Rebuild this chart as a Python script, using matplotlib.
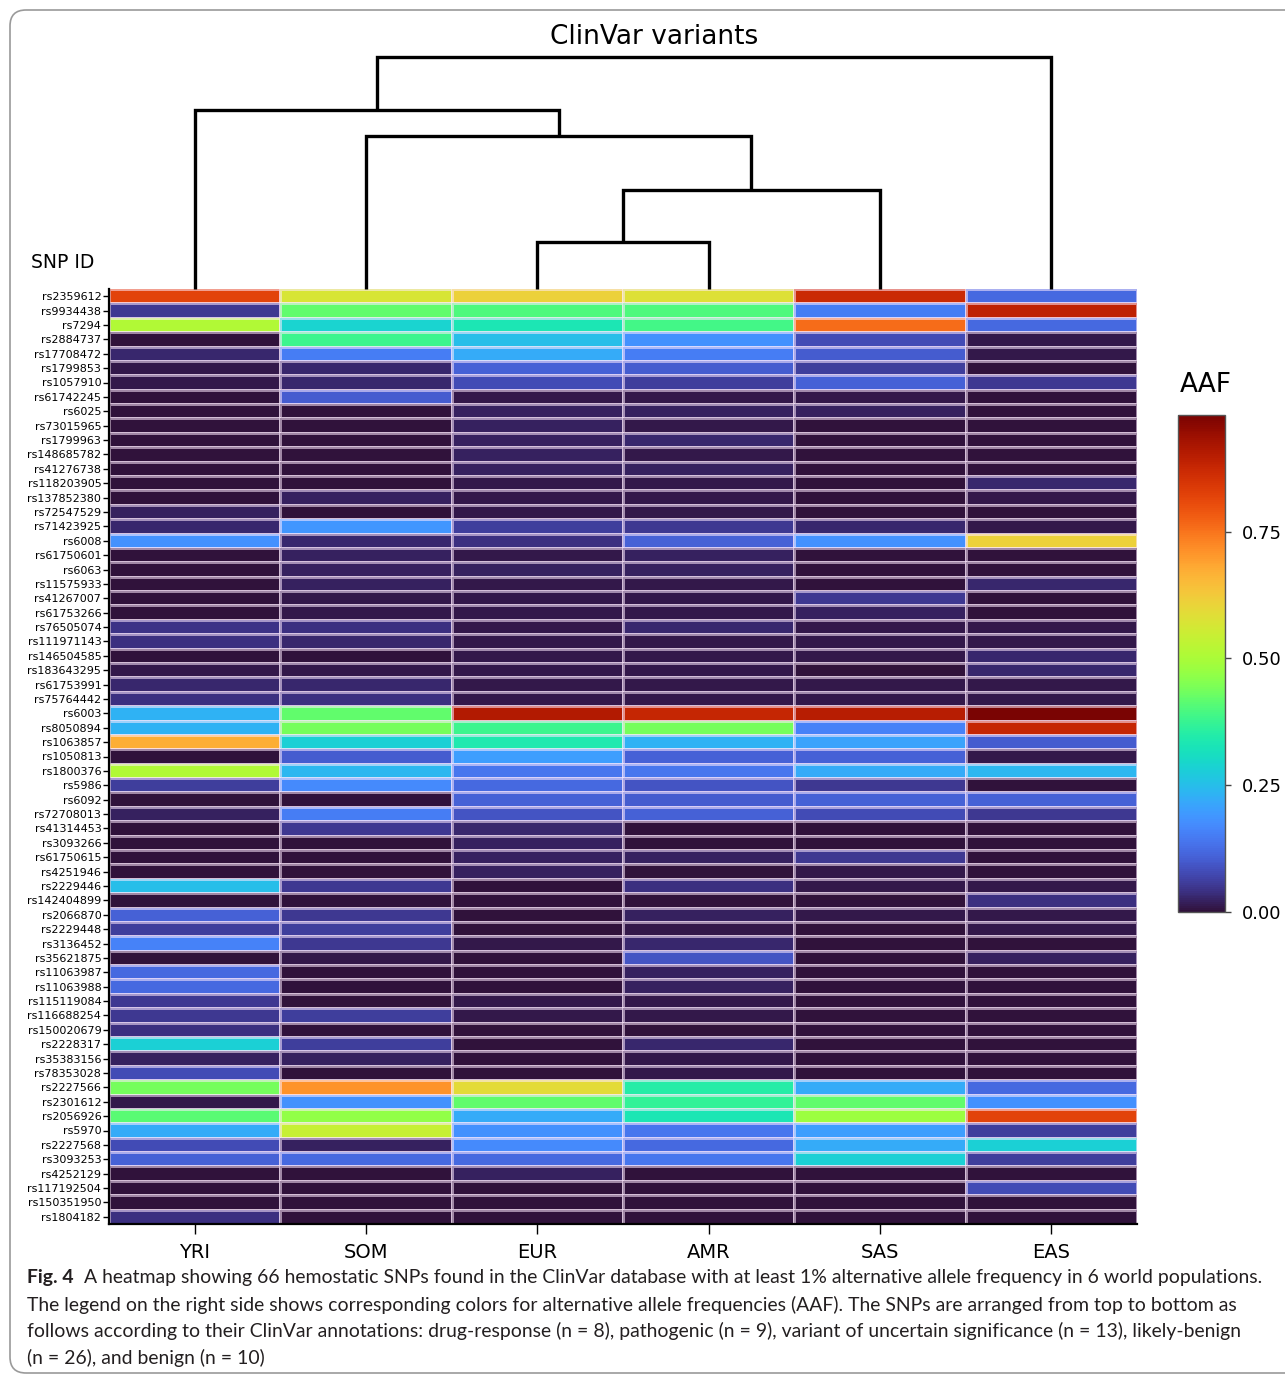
import numpy as np
import matplotlib
matplotlib.use("Agg")
import matplotlib.pyplot as plt
from matplotlib.patches import FancyBboxPatch
from matplotlib.transforms import IdentityTransform
from matplotlib import font_manager as fm

# ---------------- data ----------------
populations = ["YRI", "SOM", "EUR", "AMR", "SAS", "EAS"]

snp_ids = [
    "rs2359612", "rs9934438", "rs7294", "rs2884737", "rs17708472", "rs1799853",
    "rs1057910", "rs61742245", "rs6025", "rs73015965", "rs1799963", "rs148685782",
    "rs41276738", "rs118203905", "rs137852380", "rs72547529", "rs71423925", "rs6008",
    "rs61750601", "rs6063", "rs11575933", "rs41267007", "rs61753266", "rs76505074",
    "rs111971143", "rs146504585", "rs183643295", "rs61753991", "rs75764442", "rs6003",
    "rs8050894", "rs1063857", "rs1050813", "rs1800376", "rs5986", "rs6092",
    "rs72708013", "rs41314453", "rs3093266", "rs61750615", "rs4251946", "rs2229446",
    "rs142404899", "rs2066870", "rs2229448", "rs3136452", "rs35621875", "rs11063987",
    "rs11063988", "rs115119084", "rs116688254", "rs150020679", "rs2228317", "rs35383156",
    "rs78353028", "rs2227566", "rs2301612", "rs2056926", "rs5970", "rs2227568",
    "rs3093253", "rs4252129", "rs117192504", "rs150351950", "rs1804182",
]

aaf_yri = [0.82, 0.05, 0.51, 0.00, 0.03, 0.01, 0.01, 0.00, 0.00, 0.00,
           0.00, 0.00, 0.00, 0.00, 0.00, 0.02, 0.03, 0.18, 0.00, 0.00,
           0.00, 0.00, 0.00, 0.045, 0.04, 0.00, 0.01, 0.03, 0.04, 0.23,
           0.23, 0.67, 0.00, 0.51, 0.06, 0.00, 0.02, 0.00, 0.00, 0.00,
           0.00, 0.25, 0.00, 0.11, 0.06, 0.16, 0.00, 0.12, 0.12, 0.05,
           0.05, 0.04, 0.28, 0.02, 0.08, 0.44, 0.01, 0.41, 0.22, 0.08,
           0.11, 0.00, 0.00, 0.00, 0.04]
aaf_som = [0.57, 0.42, 0.29, 0.38, 0.15, 0.03, 0.03, 0.10, 0.00, 0.00,
           0.00, 0.00, 0.00, 0.00, 0.02, 0.00, 0.19, 0.03, 0.02, 0.02,
           0.02, 0.01, 0.01, 0.04, 0.03, 0.00, 0.01, 0.03, 0.04, 0.42,
           0.44, 0.28, 0.10, 0.24, 0.17, 0.00, 0.15, 0.05, 0.00, 0.00,
           0.00, 0.05, 0.00, 0.05, 0.06, 0.05, 0.01, 0.00, 0.00, 0.00,
           0.06, 0.00, 0.06, 0.02, 0.00, 0.71, 0.18, 0.47, 0.54, 0.02,
           0.12, 0.00, 0.00, 0.00, 0.00]
aaf_eur = [0.61, 0.40, 0.33, 0.25, 0.22, 0.11, 0.08, 0.01, 0.02, 0.02,
           0.02, 0.02, 0.02, 0.01, 0.01, 0.01, 0.06, 0.04, 0.01, 0.02,
           0.01, 0.01, 0.01, 0.01, 0.01, 0.01, 0.01, 0.01, 0.01, 0.91,
           0.38, 0.34, 0.20, 0.14, 0.12, 0.11, 0.09, 0.03, 0.02, 0.02,
           0.02, 0.00, 0.00, 0.00, 0.00, 0.01, 0.00, 0.00, 0.00, 0.01,
           0.01, 0.00, 0.00, 0.00, 0.00, 0.59, 0.42, 0.22, 0.18, 0.17,
           0.12, 0.02, 0.00, 0.00, 0.00]
aaf_amr = [0.58, 0.40, 0.39, 0.18, 0.15, 0.10, 0.06, 0.01, 0.02, 0.01,
           0.03, 0.01, 0.02, 0.01, 0.01, 0.01, 0.05, 0.11, 0.02, 0.02,
           0.01, 0.01, 0.01, 0.03, 0.01, 0.01, 0.01, 0.01, 0.01, 0.88,
           0.44, 0.23, 0.11, 0.14, 0.09, 0.10, 0.11, 0.00, 0.00, 0.02,
           0.00, 0.04, 0.00, 0.02, 0.01, 0.03, 0.09, 0.02, 0.02, 0.01,
           0.01, 0.00, 0.03, 0.01, 0.01, 0.35, 0.37, 0.33, 0.14, 0.12,
           0.14, 0.00, 0.00, 0.00, 0.00]
aaf_sas = [0.87, 0.15, 0.76, 0.08, 0.10, 0.06, 0.11, 0.01, 0.02, 0.00,
           0.00, 0.00, 0.00, 0.00, 0.00, 0.00, 0.03, 0.18, 0.00, 0.00,
           0.00, 0.05, 0.02, 0.01, 0.01, 0.01, 0.00, 0.01, 0.01, 0.90,
           0.16, 0.21, 0.11, 0.22, 0.05, 0.11, 0.08, 0.00, 0.00, 0.05,
           0.01, 0.01, 0.00, 0.01, 0.00, 0.00, 0.00, 0.00, 0.00, 0.00,
           0.00, 0.00, 0.00, 0.00, 0.00, 0.22, 0.42, 0.48, 0.20, 0.22,
           0.28, 0.00, 0.00, 0.00, 0.00]
aaf_eas = [0.12, 0.89, 0.12, 0.01, 0.01, 0.00, 0.05, 0.00, 0.00, 0.00,
           0.00, 0.00, 0.00, 0.03, 0.01, 0.00, 0.01, 0.61, 0.00, 0.00,
           0.03, 0.00, 0.00, 0.01, 0.01, 0.03, 0.03, 0.01, 0.01, 0.98,
           0.88, 0.10, 0.01, 0.24, 0.00, 0.11, 0.05, 0.00, 0.00, 0.00,
           0.00, 0.01, 0.04, 0.01, 0.01, 0.00, 0.02, 0.00, 0.00, 0.00,
           0.00, 0.00, 0.00, 0.00, 0.00, 0.12, 0.18, 0.82, 0.06, 0.28,
           0.06, 0.00, 0.08, 0.00, 0.00]

# column dendrogram (leaf indices 0..5 follow `populations`; new clusters 6,7,...)
link_left = [2, 6, 1, 0, 9]
link_right = [3, 4, 7, 8, 5]
link_height = [0.47, 0.99, 1.53, 1.79, 2.32]

colorbar_ticks = [0.0, 0.25, 0.50, 0.75]
colorbar_ticklabels = ["0.00", "0.25", "0.50", "0.75"]

caption_bold = "Fig. 4"
caption_lines = [
    "  A heatmap showing 66 hemostatic SNPs found in the ClinVar database with at least 1% alternative allele frequency in 6 world populations.",
    "The legend on the right side shows corresponding colors for alternative allele frequencies (AAF). The SNPs are arranged from top to bottom as",
    "follows according to their ClinVar annotations: drug-response (n = 8), pathogenic (n = 9), variant of uncertain significance (n = 13), likely-benign",
    "(n = 26), and benign (n = 10)",
]

# ---------------- layout ----------------
W, H = 1285, 1377
fig = plt.figure(figsize=(W / 100, H / 100), dpi=100)
fig.patch.set_facecolor("white")


def fx(px):
    return px / W


def fy(py):
    return 1 - py / H


# heatmap
hm_l, hm_r, hm_t, hm_b = 109, 1137, 289, 1224
ax = fig.add_axes([fx(hm_l), fy(hm_b), fx(hm_r) - fx(hm_l), fy(hm_t) - fy(hm_b)])
data = np.column_stack([aaf_yri, aaf_som, aaf_eur, aaf_amr, aaf_sas, aaf_eas])
n_rows, n_cols = data.shape
vmax = data.max()
mesh = ax.pcolormesh(data, cmap="turbo", vmin=0, vmax=vmax,
                     edgecolors=(1, 0.92, 1, 0.55), linewidth=0.9)
ax.set_xlim(0, n_cols)
ax.set_ylim(n_rows, 0)
ax.set_yticks(np.arange(n_rows) + 0.5)
ax.set_yticklabels(snp_ids, fontsize=8.0)
ax.set_xticks(np.arange(n_cols) + 0.5)
ax.set_xticklabels(populations, fontsize=14)
ax.tick_params(axis="y", length=4, width=1.0, pad=1.5)
ax.tick_params(axis="x", length=7, width=1.0, pad=7)
for s in ["top", "right"]:
    ax.spines[s].set_visible(False)
for s in ["left", "bottom"]:
    ax.spines[s].set_linewidth(1.6)

# dendrogram
dd_top = 50
dax = fig.add_axes([fx(hm_l), fy(hm_t), fx(hm_r) - fx(hm_l), fy(dd_top) - fy(hm_t)])
dax.set_xlim(0, n_cols)
dax.set_ylim(0, (hm_t - dd_top) / 100)
dax.axis("off")
pos = {i: i + 0.5 for i in range(n_cols)}
hgt = {i: 0.0 for i in range(n_cols)}
for k, (a, b, h) in enumerate(zip(link_left, link_right, link_height)):
    xa, xb = pos[a], pos[b]
    dax.plot([xa, xa, xb, xb], [hgt[a], h, h, hgt[b]], color="black", lw=2.4,
             solid_joinstyle="miter", solid_capstyle="butt", clip_on=False)
    new = n_cols + k
    pos[new] = (xa + xb) / 2
    hgt[new] = h

# colorbar
cax = fig.add_axes([fx(1178), fy(912), fx(1225) - fx(1178), fy(415) - fy(912)])
cb = fig.colorbar(mesh, cax=cax, ticks=colorbar_ticks)
cb.ax.set_yticklabels(colorbar_ticklabels, fontsize=13)
cb.outline.set_edgecolor("#555555")
cb.outline.set_linewidth(1.0)
cax.tick_params(length=4, width=1, color="#444444", pad=8)
fig.text(fx(1206), fy(385), "AAF", ha="center", va="center", fontsize=19)

# titles
fig.text(fx(654), fy(37), "ClinVar variants", ha="center", va="center", fontsize=19)
fig.text(fx(31), fy(263), "SNP ID", ha="left", va="center", fontsize=13.5)

# border
border = FancyBboxPatch((10, H - 1373), 1320, 1363,
                        boxstyle="round,pad=0,rounding_size=16",
                        transform=IdentityTransform(), fill=False,
                        edgecolor="#9a9a9a", linewidth=1.2)
fig.patches.append(border)

# caption
available = {f.name for f in fm.fontManager.ttflist}
cap_family = "Lato" if "Lato" in available else "DejaVu Sans"
renderer = fig.canvas.get_renderer()
fs0 = 12.0
tb = fig.text(0, 0, caption_bold, fontsize=fs0, weight="bold", family=cap_family)
tr = fig.text(0, 0, caption_lines[0], fontsize=fs0, family=cap_family)
total = tb.get_window_extent(renderer).width + tr.get_window_extent(renderer).width
tb.remove()
tr.remove()
fs = fs0 * (1258 - 27) / total

cap_y = [1278, 1305, 1331, 1358]
cap_color = "#231f20"
tb = fig.text(fx(27), fy(cap_y[0]), caption_bold, fontsize=fs, weight="bold",
              family=cap_family, va="center", ha="left", color=cap_color)
wb = tb.get_window_extent(renderer).width
fig.text(fx(27 + wb), fy(cap_y[0]), caption_lines[0], fontsize=fs, family=cap_family,
         va="center", ha="left", color=cap_color)
for line, yy in zip(caption_lines[1:], cap_y[1:]):
    fig.text(fx(27), fy(yy), line, fontsize=fs, family=cap_family,
             va="center", ha="left", color=cap_color)

fig.savefig("out.png", dpi=100)
